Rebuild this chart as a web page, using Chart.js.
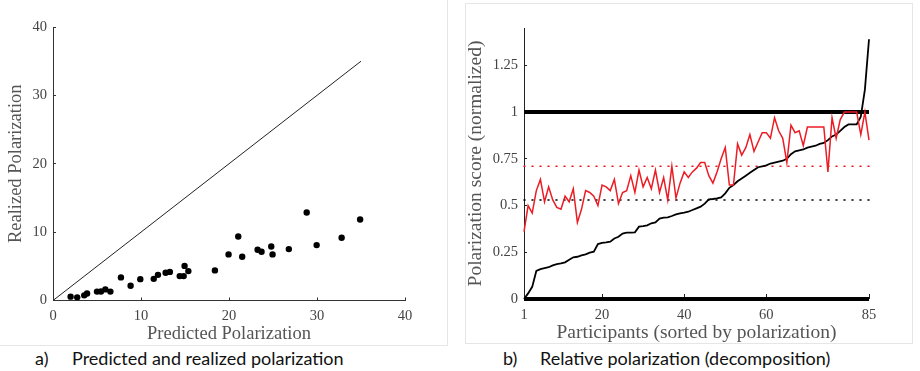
<!DOCTYPE html>
<html>
<head>
<meta charset="utf-8">
<script src="https://cdn.jsdelivr.net/npm/chart.js@4.4.1/dist/chart.umd.min.js"></script>
<style>
body { margin:0; background:#fff; width:920px; height:371px; overflow:hidden; position:relative; font-family: Lato, sans-serif; }
.frame { position:absolute; border:1px solid #e6e6e6; }
.box { position:absolute; top:0; }
.cap { position:absolute; top:347px; font-size:18px; line-height:22px; color:#111; }
</style>
</head>
<body>
<div class="frame" style="left:-1px;top:-1px;width:447px;height:345px"></div>
<div class="frame" style="left:465px;top:3px;width:446px;height:339px"></div>
<div class="box" style="left:0"><canvas id="left" width="450" height="345"></canvas></div>
<div class="box" style="left:460px"><canvas id="right" width="460" height="345"></canvas></div>
<div class="cap" style="left:35px">a)</div>
<div class="cap" style="left:72px">Predicted and realized polarization</div>
<div class="cap" style="left:503px">b)</div>
<div class="cap" style="left:540px">Relative polarization (decomposition)</div>
<script>
// panel a: predicted vs realized
const predicted = [2.0, 2.75, 3.55, 3.87, 5.0, 5.45, 5.95, 6.52, 7.72, 8.82, 9.92, 11.45, 11.93, 12.8, 13.28, 14.4,
    14.85, 14.95, 15.38, 18.4, 19.95, 21.05, 21.5, 23.25, 23.7, 24.8, 24.95, 26.8, 28.83, 29.96, 32.8, 34.9];
const realized = [0.56, 0.46, 0.75, 1.03, 1.3, 1.32, 1.62, 1.3, 3.38, 2.16, 3.12, 3.17, 3.75, 4.06, 4.18, 3.57,
    3.57, 5.06, 4.3, 4.4, 6.74, 9.37, 6.4, 7.42, 7.13, 7.9, 6.74, 7.52, 12.87, 8.1, 9.17, 11.85];
const diagonal = [0, 35];
const aTicks = [0, 10, 20, 30, 40];

// panel b: relative polarization
const participants = Array.from({length: 85}, (_, i) => i + 1);
const redScore = [0.36, 0.50, 0.46, 0.58, 0.64, 0.52, 0.60, 0.53, 0.49, 0.48,
    0.55, 0.52, 0.59, 0.41, 0.48, 0.58, 0.57, 0.55, 0.50, 0.61,
    0.60, 0.58, 0.64, 0.51, 0.57, 0.58, 0.66, 0.57, 0.69, 0.60,
    0.65, 0.59, 0.69, 0.57, 0.65, 0.53, 0.71, 0.54, 0.62, 0.68,
    0.65, 0.68, 0.70, 0.73, 0.73, 0.66, 0.62, 0.68, 0.75, 0.81,
    0.61, 0.61, 0.83, 0.77, 0.81, 0.88, 0.79, 0.84, 0.89, 0.89,
    0.86, 0.97, 0.90, 0.86, 0.73, 0.93, 0.89, 0.90, 0.82, 0.92,
    0.92, 0.92, 0.92, 0.92, 0.68, 0.97, 0.86, 0.96, 1.0, 1.0,
    1.0, 1.0, 0.88, 1.0, 0.85];
const blackScore = [0, 0.03, 0.065, 0.15, 0.16, 0.165, 0.17, 0.18, 0.187, 0.19,
    0.196, 0.21, 0.223, 0.226, 0.233, 0.239, 0.248, 0.253, 0.294, 0.30,
    0.303, 0.307, 0.324, 0.333, 0.35, 0.355, 0.355, 0.357, 0.387, 0.39,
    0.394, 0.405, 0.41, 0.43, 0.435, 0.437, 0.444, 0.453, 0.458, 0.462,
    0.467, 0.476, 0.485, 0.494, 0.51, 0.533, 0.535, 0.538, 0.544, 0.565,
    0.595, 0.61, 0.63, 0.645, 0.66, 0.675, 0.69, 0.705, 0.71, 0.715,
    0.725, 0.73, 0.735, 0.74, 0.75, 0.775, 0.79, 0.795, 0.80, 0.81,
    0.815, 0.82, 0.83, 0.835, 0.85, 0.87, 0.88, 0.90, 0.92, 0.934,
    0.934, 0.934, 0.975, 1.12, 1.39];
const redMean = 0.71;
const blackMean = 0.53;
const bounds = [0, 1];
const bXTicks = [1, 20, 40, 60, 85];
const bYTicks = [0, 0.25, 0.5, 0.75, 1, 1.25];

const serif = 'Liberation Serif';
const tickFont = {family: serif, size: 14.5};
const titleFontA = {family: serif, size: 18.5};
const titleFontB = {family: serif, size: 19.5};

function hline(y, color, width, dash) {
    return {
        type: 'line',
        data: [{x: 1, y: y}, {x: 85, y: y}],
        borderColor: color, borderWidth: width, borderDash: dash || [],
        borderCapStyle: dash ? 'round' : 'butt',
        pointRadius: 0, clip: false
    };
}

// matlab style: tick marks point into the plot (negative length)
new Chart(document.querySelector('#left'), {
    type: 'scatter',
    data: {
        datasets: [{
            data: predicted.map((p, i) => ({x: p, y: realized[i]})),
            backgroundColor: '#000', borderColor: '#000',
            pointRadius: 3.2, pointBorderWidth: 0
        }, {
            type: 'line',
            data: diagonal.map(v => ({x: v, y: v})),
            borderColor: '#222', borderWidth: 1, pointRadius: 0
        }]
    },
    options: {
        responsive: false,
        animation: false,
        layout: {padding: {top: 27, right: 45, bottom: 0, left: 0}},
        plugins: {legend: {display: false}, tooltip: {enabled: false}},
        scales: {
            x: {
                type: 'linear', min: 0, max: 40,
                afterBuildTicks: s => { s.ticks = aTicks.map(v => ({value: v})); },
                afterFit: s => { s.height = 44.5; },
                border: {color: '#333', width: 1},
                grid: {drawOnChartArea: false, tickLength: -3, color: '#333'},
                ticks: {font: tickFont, color: '#444', padding: 10, maxRotation: 0},
                title: {display: true, text: 'Predicted Polarization', font: titleFontA, color: '#555', padding: {top: 0, bottom: 0}}
            },
            y: {
                type: 'linear', min: 0, max: 40,
                afterBuildTicks: s => { s.ticks = aTicks.map(v => ({value: v})); },
                afterFit: s => { s.width = 53; },
                border: {color: '#333', width: 1},
                grid: {drawOnChartArea: false, tickLength: -3, color: '#333'},
                ticks: {font: tickFont, color: '#444', padding: 9},
                title: {display: true, text: 'Realized Polarization', font: titleFontA, color: '#555', padding: {top: 5, bottom: 0}}
            }
        }
    }
});

new Chart(document.querySelector('#right'), {
    type: 'line',
    data: {
        datasets: [{
            data: participants.map((p, i) => ({x: p, y: redScore[i]})),
            borderColor: '#ec1c24', borderWidth: 1.5, pointRadius: 0, clip: false
        }, {
            data: participants.map((p, i) => ({x: p, y: blackScore[i]})),
            borderColor: '#000', borderWidth: 1.8, pointRadius: 0, clip: false
        },
            hline(bounds[1], '#000', 4),
            hline(bounds[0], '#000', 4),
            hline(redMean, '#ec1c24', 1.6, [1, 7]),
            hline(blackMean, '#000', 1.6, [1, 7])
        ]
    },
    options: {
        responsive: false,
        animation: false,
        layout: {padding: {top: 28, right: 51, bottom: 0, left: 0}},
        plugins: {legend: {display: false}, tooltip: {enabled: false}},
        scales: {
            x: {
                type: 'linear', min: 1, max: 85,
                afterBuildTicks: s => { s.ticks = bXTicks.map(v => ({value: v})); },
                afterFit: s => { s.height = 46; },
                border: {display: false},
                grid: {drawOnChartArea: false, tickLength: -5, color: '#222'},
                ticks: {font: tickFont, color: '#444', padding: 12, maxRotation: 0},
                title: {display: true, text: 'Participants (sorted by polarization)', font: titleFontB, color: '#555', padding: {top: 0, bottom: 0}}
            },
            y: {
                type: 'linear', min: 0, max: 1.45,
                afterBuildTicks: s => { s.ticks = bYTicks.map(v => ({value: v})); },
                afterFit: s => { s.width = 64; },
                border: {color: '#222', width: 1},
                grid: {drawOnChartArea: false, tickLength: -3, color: '#222'},
                ticks: {font: tickFont, color: '#444', padding: 9, callback: v => String(v)},
                title: {display: true, text: 'Polarization score (normalized)', font: titleFontB, color: '#555', padding: {top: 4, bottom: 0}}
            }
        }
    }
});
</script>
</body>
</html>
